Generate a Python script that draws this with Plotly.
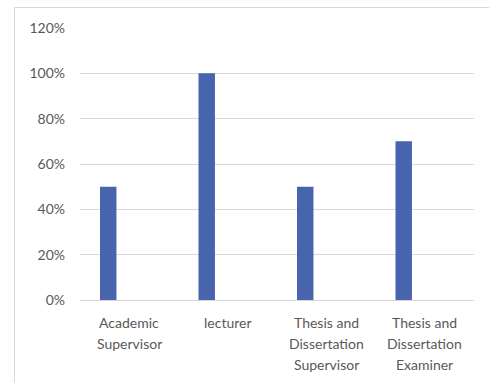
import plotly.graph_objects as go

categories = ["Academic Supervisor", "lecturer", "Thesis and Dissertation Supervisor", "Thesis and Dissertation Examiner"]
category_lines = [["Academic", "Supervisor"], ["lecturer"], ["Thesis and", "Dissertation", "Supervisor"], ["Thesis and", "Dissertation", "Examiner"]]
values = [0.5, 1.0, 0.5, 0.7]
y_ticks = [0, 0.2, 0.4, 0.6, 0.8, 1.0, 1.2]
y_tick_labels = ["0%", "20%", "40%", "60%", "80%", "100%", "120%"]

fig = go.Figure()
fig.add_trace(go.Bar(x=categories, y=values, marker=dict(color="#4864AC", line=dict(width=0)),
                     width=0.167, offset=-0.297))

annotations = []
for cat, lines in zip(categories, category_lines):
    for i, line in enumerate(lines):
        annotations.append(dict(x=cat, xref="x", y=0, yref="paper", text=line, showarrow=False,
                                xanchor="center", yanchor="middle", yshift=-(22.7 + 20.7 * i),
                                font=dict(family="Lato", size=14, color="#595959")))

fig.update_layout(
    width=489, height=383,
    margin=dict(l=80, r=15, t=28, b=83),
    plot_bgcolor="white", paper_bgcolor="white",
    showlegend=False,
    font=dict(family="Lato", size=14, color="#595959"),
    xaxis=dict(showgrid=False, showline=True, linecolor="#D9D9D9", linewidth=1,
               ticks="", showticklabels=False, range=[-0.5, 3.5]),
    yaxis=dict(range=[0, 1.2], tickvals=y_ticks, ticktext=y_tick_labels,
               showgrid=True, gridcolor="#D9D9D9", gridwidth=1, zeroline=False,
               showline=False, ticks="", ticklabelstandoff=14,
               tickfont=dict(size=14, color="#595959")),
    annotations=annotations,
    shapes=[dict(type="rect", xref="paper", yref="paper",
                 x0=(14.5 - 80) / 394, x1=1.2, y0=-0.5, y1=(300 - 7.5) / 272,
                 line=dict(color="#D9D9D9", width=1), fillcolor="rgba(0,0,0,0)", layer="below")],
)

fig.write_html("out.html")
